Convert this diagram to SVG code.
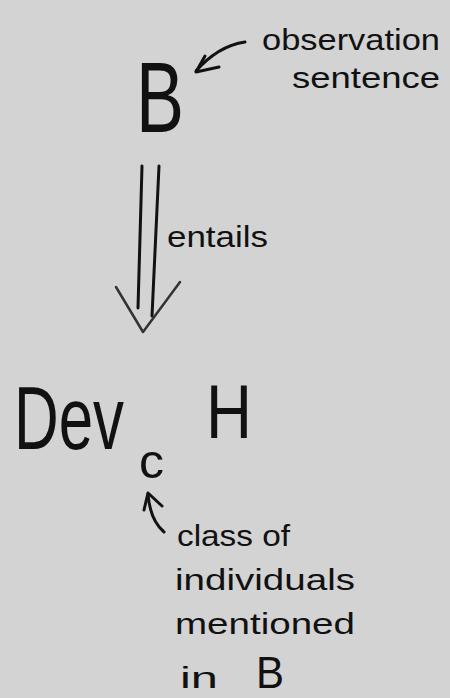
<svg xmlns="http://www.w3.org/2000/svg" width="450" height="698" viewBox="0 0 450 698">
<style>
.t{font-family:"Liberation Sans",Arial,sans-serif;fill:#111;}
.ln{fill:none;stroke:#111;stroke-width:3;stroke-linecap:round;stroke-linejoin:round;}
.lt{fill:none;stroke:#333;stroke-width:2.5;stroke-linecap:round;stroke-linejoin:round;}
</style>
<rect width="450" height="698" fill="#d3d3d3"/>
<g id="node-B">
<text class="t" x="136" y="132" font-size="100" textLength="48" lengthAdjust="spacingAndGlyphs">B</text>
</g>
<g id="note-observation">
<text class="t" x="262" y="50" font-size="30" textLength="178" lengthAdjust="spacingAndGlyphs">observation</text>
<text class="t" x="292" y="88" font-size="30" textLength="148" lengthAdjust="spacingAndGlyphs">sentence</text>
</g>
<g id="node-DevcH">
<text class="t" transform="translate(14,449) scale(1,1.42)" x="0" y="0" font-size="62" textLength="110" lengthAdjust="spacingAndGlyphs">Dev</text>
<text class="t" x="139" y="478" font-size="48" textLength="25" lengthAdjust="spacingAndGlyphs">c</text>
<text class="t" x="206" y="438" font-size="76" textLength="46" lengthAdjust="spacingAndGlyphs">H</text>
</g>
<g id="note-class">
<text class="t" x="177" y="546" font-size="30" textLength="113" lengthAdjust="spacingAndGlyphs">class of</text>
<text class="t" x="175" y="590" font-size="30" textLength="180" lengthAdjust="spacingAndGlyphs">individuals</text>
<text class="t" x="175" y="634" font-size="30" textLength="180" lengthAdjust="spacingAndGlyphs">mentioned</text>
<text class="t" x="180" y="688" font-size="30" textLength="38" lengthAdjust="spacingAndGlyphs">in</text>
<text class="t" x="256" y="688" font-size="44" textLength="28" lengthAdjust="spacingAndGlyphs">B</text>
</g>
<g id="connectors">
<path class="ln" d="M245 42 Q218 46 196 71"/>
<path class="ln" d="M205 56 L196 72 L219 67"/>
<path class="ln" d="M142 166 L138 308"/>
<path class="ln" d="M159 166 L152 316"/>
<path class="lt" d="M116 287 L143 332 L180 282"/>
<text class="t" x="167" y="247" font-size="30" textLength="101" lengthAdjust="spacingAndGlyphs">entails</text>
<path class="ln" d="M148 494 Q150 520 164 532"/>
<path class="ln" d="M144 510 L148 493 L162 506"/>
</g>
</svg>
